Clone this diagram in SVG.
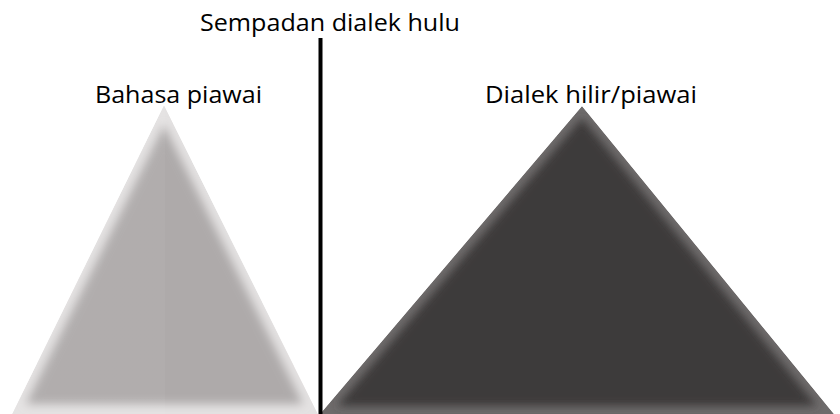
<svg xmlns="http://www.w3.org/2000/svg" width="840" height="414" viewBox="0 0 840 414">
  <style>
    .lbl { font-family: "Open Sans", "Liberation Sans", sans-serif; font-size: 24px; fill: #000; }
  </style>
  <defs>
    <clipPath id="clipL"><polygon points="12,414 164,105 318,414"/></clipPath>
    <clipPath id="clipR"><polygon points="320,414 582,106 834,414"/></clipPath>
    <filter id="blurL" x="-20%" y="-20%" width="140%" height="140%"><feGaussianBlur stdDeviation="5"/></filter>
    <filter id="blurR" x="-20%" y="-20%" width="140%" height="140%"><feGaussianBlur stdDeviation="4"/></filter>
    <linearGradient id="ridge" x1="0" y1="0" x2="1" y2="0">
      <stop offset="0" stop-color="#ffffff" stop-opacity="0.12"/>
      <stop offset="0.5" stop-color="#ffffff" stop-opacity="0.12"/>
      <stop offset="0.5" stop-color="#ffffff" stop-opacity="0"/>
      <stop offset="1" stop-color="#ffffff" stop-opacity="0"/>
    </linearGradient>
  </defs>
  <rect width="840" height="414" fill="#ffffff"/>

  <g id="standard-language">
    <g clip-path="url(#clipL)">
      <polygon points="12,414 164,105 318,414" fill="#e4e2e2"/>
      <polygon points="26,404 164,125 303,404" fill="#aeaaaa" filter="url(#blurL)"/>
      <polygon points="12,414 164,105 318,414" fill="url(#ridge)" opacity="0.3"/>
    </g>
    <text class="lbl" x="95" y="103" textLength="167" lengthAdjust="spacingAndGlyphs">Bahasa piawai</text>
  </g>

  <g id="downstream-dialect">
    <g clip-path="url(#clipR)">
      <polygon points="320,414 582,106 834,414" fill="#6e6b6b"/>
      <polygon points="337,406 582,118 817,406" fill="#3c3a3b" filter="url(#blurR)"/>
    </g>
    <text class="lbl" x="485" y="103" textLength="212" lengthAdjust="spacingAndGlyphs">Dialek hilir/piawai</text>
  </g>

  <g id="boundary">
    <text class="lbl" x="200" y="31" textLength="260" lengthAdjust="spacingAndGlyphs">Sempadan dialek hulu</text>
  </g>

  <g id="connectors">
    <line x1="320.5" y1="38" x2="320.5" y2="414" stroke="#000" stroke-width="4"/>
  </g>
</svg>
